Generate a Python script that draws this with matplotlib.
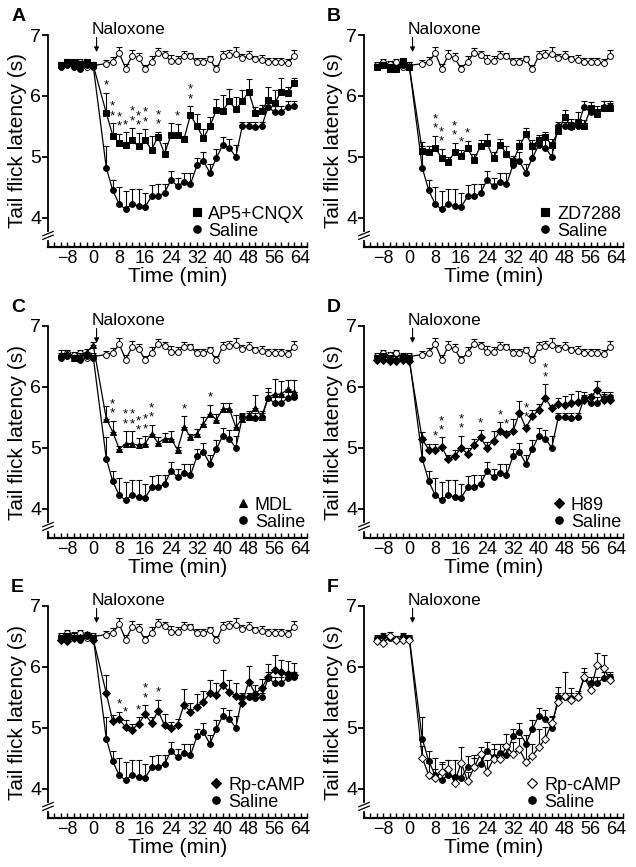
import numpy as np
import matplotlib
matplotlib.use("Agg")
import matplotlib.pyplot as plt
from matplotlib.lines import Line2D
from matplotlib.ticker import MultipleLocator, FixedLocator
import matplotlib.transforms as mtransforms

plt.rcParams['font.family'] = ['Liberation Sans', 'DejaVu Sans']

# time points (min): 6 baseline points, 30 points after naloxone
time_min = [-10, -8, -6, -4, -2, 0] + list(range(4, 63, 2))

# naloxone-only control (open circles, panels A-E)
control = [6.50, 6.55, 6.52, 6.55, 6.48, 6.50,
           6.53, 6.56, 6.70, 6.45, 6.66, 6.62, 6.45, 6.56, 6.71, 6.67,
           6.57, 6.57, 6.66, 6.65, 6.56, 6.55, 6.60, 6.44, 6.66, 6.67,
           6.69, 6.63, 6.65, 6.60, 6.59, 6.55, 6.56, 6.55, 6.54, 6.66]
control_err = [0.06, 0.05, 0.06, 0.05, 0.06, 0.05,
               0.06, 0.08, 0.10, 0.08, 0.10, 0.08, 0.06, 0.10, 0.08, 0.06,
               0.10, 0.08, 0.08, 0.06, 0.06, 0.08, 0.06, 0.06, 0.08, 0.08,
               0.12, 0.06, 0.08, 0.06, 0.08, 0.08, 0.06, 0.08, 0.06, 0.10]

# saline group (filled circles, all panels)
saline = [6.47, 6.50, 6.47, 6.45, 6.50, 6.48,
          4.82, 4.45, 4.22, 4.14, 4.23, 4.19, 4.18, 4.35, 4.35, 4.41,
          4.62, 4.52, 4.58, 4.55, 4.86, 4.93, 4.74, 4.98, 5.20, 5.15,
          5.00, 5.50, 5.50, 5.49, 5.50, 5.82, 5.73, 5.73, 5.82, 5.83]
saline_err = [0.05, 0.05, 0.06, 0.05, 0.05, 0.05,
              0.35, 0.17, 0.28, 0.30, 0.25, 0.28, 0.22, 0.18, 0.20, 0.15,
              0.15, 0.13, 0.15, 0.18, 0.12, 0.15, 0.15, 0.15, 0.12, 0.15,
              0.20, 0.08, 0.08, 0.08, 0.08, 0.10, 0.10, 0.10, 0.10, 0.08]

ap5 = [6.50, 6.55, 6.55, 6.52, 6.55, 6.50,
       5.72, 5.35, 5.23, 5.20, 5.27, 5.17, 5.27, 5.12, 5.33, 5.05,
       5.36, 5.36, 5.29, 5.69, 5.50, 5.31, 5.50, 5.77, 5.76, 5.91,
       5.78, 5.91, 6.07, 5.72, 5.75, 5.94, 5.88, 6.07, 6.05, 6.21]
ap5_err = [0.06, 0.05, 0.06, 0.05, 0.05, 0.05,
           0.33, 0.20, 0.15, 0.20, 0.20, 0.22, 0.18, 0.22, 0.08, 0.18,
           0.20, 0.18, 0.05, 0.14, 0.20, 0.15, 0.15, 0.18, 0.25, 0.20,
           0.20, 0.18, 0.20, 0.10, 0.10, 0.20, 0.22, 0.22, 0.10, 0.08]
ap5_star_idx = [6, 7, 8, 9, 10, 11, 12, 14, 17, 19]
ap5_star_n = [1, 2, 2, 1, 2, 2, 2, 2, 1, 2]

zd = [6.48, 6.50, 6.45, 6.45, 6.58, 6.48,
      5.10, 5.08, 5.15, 4.98, 4.92, 5.08, 5.02, 5.14, 4.95, 5.18,
      5.22, 4.98, 5.20, 5.05, 4.92, 5.17, 5.38, 5.18, 5.28, 5.32,
      5.20, 5.42, 5.65, 5.50, 5.58, 5.50, 5.80, 5.70, 5.80, 5.80]
zd_err = [0.05, 0.05, 0.05, 0.06, 0.05, 0.08,
          0.15, 0.10, 0.20, 0.15, 0.08, 0.15, 0.10, 0.12, 0.10, 0.10,
          0.15, 0.10, 0.10, 0.12, 0.10, 0.10, 0.10, 0.10, 0.08, 0.08,
          0.10, 0.10, 0.12, 0.12, 0.15, 0.10, 0.10, 0.08, 0.12, 0.08]
zd_star_idx = [8, 9, 11, 12, 13]
zd_star_n = [2, 2, 2, 1, 1]

mdl = [6.52, 6.55, 6.48, 6.50, 6.58, 6.68,
       5.48, 5.26, 4.98, 5.07, 5.07, 5.04, 5.07, 5.23, 5.08, 5.15,
       5.15, 4.97, 5.34, 5.18, 5.23, 5.39, 5.56, 5.46, 5.64, 5.64,
       5.34, 5.48, 5.51, 5.66, 5.51, 5.83, 5.88, 5.88, 5.96, 5.91]
mdl_err = [0.08, 0.05, 0.05, 0.05, 0.05, 0.05,
           0.20, 0.18, 0.05, 0.20, 0.20, 0.12, 0.12, 0.15, 0.10, 0.10,
           0.12, 0.05, 0.18, 0.05, 0.08, 0.12, 0.15, 0.10, 0.10, 0.10,
           0.20, 0.08, 0.10, 0.20, 0.10, 0.15, 0.25, 0.22, 0.15, 0.20]
mdl_star_idx = [7, 9, 10, 11, 12, 13, 18, 22]
mdl_star_n = [2, 2, 2, 2, 2, 2, 1, 1]

h89 = [6.45, 6.45, 6.42, 6.42, 6.45, 6.42,
       5.14, 4.97, 4.97, 5.02, 4.81, 4.86, 5.00, 4.90, 5.05, 5.17,
       5.00, 5.12, 5.27, 5.22, 5.27, 5.57, 5.33, 5.52, 5.62, 5.82,
       5.65, 5.72, 5.70, 5.73, 5.76, 5.78, 5.84, 5.95, 5.79, 5.78]
h89_err = [0.05, 0.05, 0.05, 0.05, 0.05, 0.05,
           0.12, 0.10, 0.10, 0.15, 0.08, 0.10, 0.20, 0.10, 0.10, 0.12,
           0.10, 0.15, 0.15, 0.05, 0.20, 0.20, 0.05, 0.10, 0.10, 0.22,
           0.05, 0.10, 0.15, 0.15, 0.18, 0.08, 0.05, 0.15, 0.10, 0.08]
h89_star_idx = [8, 9, 12, 15, 18, 19, 22, 25]
h89_star_n = [1, 2, 2, 1, 1, 1, 2, 2]

rp = [6.45, 6.42, 6.48, 6.48, 6.52, 6.45,
      5.57, 5.11, 5.14, 5.01, 4.97, 5.07, 5.22, 5.08, 5.28, 5.04,
      5.00, 5.05, 5.38, 5.26, 5.35, 5.43, 5.57, 5.54, 5.70, 5.59,
      5.53, 5.41, 5.76, 5.56, 5.65, 5.84, 5.95, 5.92, 5.89, 5.86]
rp_err = [0.06, 0.05, 0.08, 0.05, 0.05, 0.05,
          0.30, 0.10, 0.12, 0.12, 0.10, 0.10, 0.15, 0.10, 0.18, 0.18,
          0.10, 0.10, 0.25, 0.15, 0.20, 0.18, 0.22, 0.20, 0.25, 0.20,
          0.20, 0.12, 0.25, 0.15, 0.15, 0.20, 0.25, 0.20, 0.20, 0.20]
rp_star_idx = [8, 9, 11, 12, 14]
rp_star_n = [1, 1, 1, 2, 1]

rp_f = [6.42, 6.40, 6.50, 6.45, 6.45, 6.45,
        4.51, 4.22, 4.17, 4.28, 4.32, 4.10, 4.43, 4.12, 4.35, 4.57,
        4.28, 4.49, 4.49, 4.70, 4.57, 4.65, 4.44, 4.54, 4.68, 4.82,
        5.08, 5.42, 5.52, 5.46, 5.51, 5.84, 5.62, 6.03, 5.99, 5.78]
rp_f_err = [0.05, 0.05, 0.08, 0.05, 0.06, 0.05,
            0.20, 0.20, 0.15, 0.12, 0.15, 0.12, 0.25, 0.15, 0.15, 0.12,
            0.20, 0.25, 0.25, 0.20, 0.20, 0.18, 0.30, 0.20, 0.30, 0.20,
            0.10, 0.25, 0.40, 0.20, 0.10, 0.15, 0.15, 0.20, 0.20, 0.10]

x_ticks = [-8, 0, 8, 16, 24, 32, 40, 48, 56, 64]


def series(ax, y, err, marker, filled, ms, z):
    y = np.asarray(y)
    err = np.asarray(err)
    ax.errorbar(time_min, y, yerr=[np.zeros_like(err), err], fmt='none',
                ecolor='k', elinewidth=0.8, capsize=2.2, capthick=0.8,
                zorder=z)
    ax.plot(time_min, y, color='k', lw=0.9, marker=marker, ms=ms,
            mfc='k' if filled else 'white', mec='k', mew=0.7, zorder=z + 0.5)


def add_stars(ax, y, err, idx, n):
    # one text per time point, stars stacked
    for i, k in zip(idx, n):
        top = y[i] + err[i] + 0.02
        ax.text(time_min[i], top, '\n'.join(['*'] * k), fontsize=9.5,
                ha='center', va='bottom', linespacing=0.7, zorder=5)


def panel(ax, letter, drug, drug_err, marker, filled, label,
          star_idx=(), star_n=(), show_control=True, ms=4.2):
    ax.set_xlim(-14, 66)
    ax.set_ylim(3.52, 7.0)
    if show_control:
        series(ax, control, control_err, 'o', False, 4.2, 2)
    series(ax, saline, saline_err, 'o', True, 4.2, 3)
    series(ax, drug, drug_err, marker, filled, ms, 4)
    add_stars(ax, drug, drug_err, star_idx, star_n)

    for s in ('top', 'right'):
        ax.spines[s].set_visible(False)
    ax.spines['bottom'].set_linewidth(1.6)
    ax.spines['left'].set_linewidth(1.3)
    ax.spines['left'].set_bounds(3.78, 7.0)

    # axis break on the y axis
    tr = mtransforms.blended_transform_factory(ax.transAxes, ax.transData)
    ax.plot([0, 0], [3.52, 3.62], transform=tr, color='k', lw=1.3,
            clip_on=False)
    for yy in (3.68, 3.74):
        ax.plot([-0.02, 0.02], [yy - 0.035, yy + 0.035], transform=tr,
                color='k', lw=0.9, clip_on=False)

    ax.xaxis.set_major_locator(FixedLocator(x_ticks))
    ax.xaxis.set_minor_locator(MultipleLocator(2))
    ax.tick_params(axis='x', which='both', direction='in', length=3.5,
                   width=1.0, labelsize=13, pad=2)
    ax.set_yticks([4, 5, 6, 7])
    ax.tick_params(axis='y', direction='out', length=4, width=1.3,
                   labelsize=14, pad=1)
    ax.set_xlabel('Time (min)', fontsize=15, labelpad=0)
    ax.set_ylabel('Tail flick latency (s)', fontsize=15, labelpad=2)

    ax.annotate('', xy=(1, 6.72), xytext=(1, 6.96),
                arrowprops=dict(arrowstyle='-|>', color='k', lw=0.8,
                                mutation_scale=7, shrinkA=0, shrinkB=0),
                annotation_clip=False)
    ax.text(-0.5, 6.97, 'Naloxone', fontsize=12.5, ha='left', va='bottom')

    handles = [Line2D([], [], ls='none', marker=marker, ms=ms + 1,
                      mfc='k' if filled else 'white', mec='k', mew=0.8),
               Line2D([], [], ls='none', marker='o', ms=5.2, mfc='k',
                      mec='k')]
    ax.legend(handles, [label, 'Saline'], loc='lower right',
              bbox_to_anchor=(1.02, 0.0), borderaxespad=0, frameon=False,
              fontsize=13, handlelength=0.6, handletextpad=0.35,
              labelspacing=0.0)
    bb = ax.get_position()
    ax.figure.text(bb.x0 - 0.058, bb.y1 + 0.012, letter, fontsize=14,
                   fontweight='bold', ha='left', va='bottom')


W, H = 636, 867
fig = plt.figure(figsize=(W / 100, H / 100), dpi=100)
lefts = [48, 364]
tops = [35, 326, 606]
bottoms = [247, 538, 818]
axes = []
for r in range(3):
    for c in range(2):
        axes.append(fig.add_axes([lefts[c] / W, 1 - bottoms[r] / H,
                                  259 / W, (bottoms[r] - tops[r]) / H]))

panel(axes[0], 'A', ap5, ap5_err, 's', True, 'AP5+CNQX',
      ap5_star_idx, ap5_star_n)
panel(axes[1], 'B', zd, zd_err, 's', True, 'ZD7288', zd_star_idx, zd_star_n)
panel(axes[2], 'C', mdl, mdl_err, '^', True, 'MDL', mdl_star_idx, mdl_star_n)
panel(axes[3], 'D', h89, h89_err, 'D', True, 'H89', h89_star_idx,
      h89_star_n, ms=3.6)
panel(axes[4], 'E', rp, rp_err, 'D', True, 'Rp-cAMP', rp_star_idx,
      rp_star_n, ms=3.6)
panel(axes[5], 'F', rp_f, rp_f_err, 'D', False, 'Rp-cAMP',
      show_control=False, ms=3.6)

fig.savefig('out.png', dpi=100)
